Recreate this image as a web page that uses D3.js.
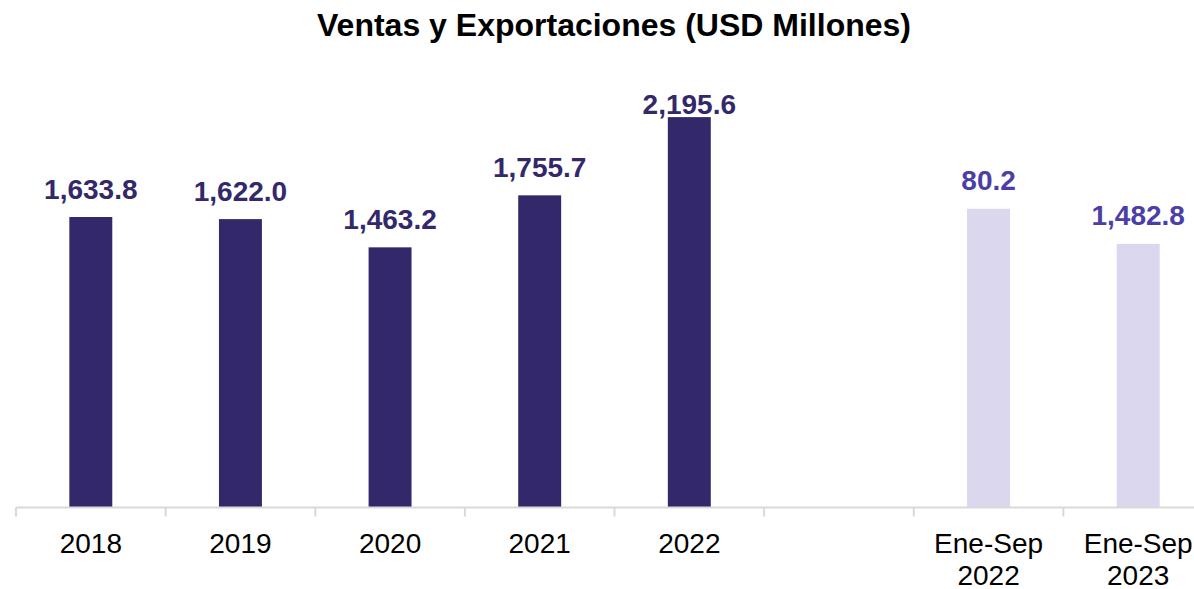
<!DOCTYPE html>
<html>
<head>
<meta charset="utf-8">
<script src="https://cdn.jsdelivr.net/npm/d3@7"></script>
<style>
  html, body { margin: 0; padding: 0; background: #ffffff; }
  svg { display: block; }
</style>
</head>
<body>
<svg id="chart" width="1194" height="589"></svg>
<script>
// ---- Data ----
const title = "Ventas y Exportaciones (USD Millones)";
const categories = ["2018", "2019", "2020", "2021", "2022", "gap", "Ene-Sep 2022", "Ene-Sep 2023"];
const tickLabels = [["2018"], ["2019"], ["2020"], ["2021"], ["2022"], [""], ["Ene-Sep", "2022"], ["Ene-Sep", "2023"]];
const values = [1633.8, 1622.0, 1463.2, 1755.7, 2195.6, null, 1680.2, 1482.8];
const valueLabels = ["1,633.8", "1,622.0", "1,463.2", "1,755.7", "2,195.6", "", "80.2", "1,482.8"];
const seriesType = ["annual", "annual", "annual", "annual", "annual", "none", "partial", "partial"];

// ---- Styles ----
const barColor = { annual: "#32286a", partial: "#dad7ef" };
const labelColor = { annual: "#32286a", partial: "#4c3ea8" };
const font = "'Liberation Sans', Arial, Helvetica, sans-serif";

const svg = d3.select("#chart");
const axisY = 507.5;
const x = d3.scaleBand()
  .domain(categories)
  .range([16, 1213])
  .paddingInner(0.713)
  .paddingOuter(0.3565);
const y = d3.scaleLinear().domain([0, 2500]).range([axisY, 63]);
const minBaseline = 113.5; // labels are kept inside the plot area

// Title
svg.append("text")
  .attr("x", 614)
  .attr("y", 36)
  .attr("text-anchor", "middle")
  .attr("font-family", font)
  .attr("font-weight", "bold")
  .attr("font-size", 32)
  .attr("fill", "#000")
  .text(title);

const data = categories.map((c, i) => ({ c, v: values[i], lab: valueLabels[i], t: seriesType[i] }));

// Bars
svg.append("g").selectAll("rect")
  .data(data.filter(d => d.v != null))
  .join("rect")
  .attr("x", d => x(d.c))
  .attr("width", x.bandwidth())
  .attr("y", d => y(d.v))
  .attr("height", d => y(0) - y(d.v))
  .attr("fill", d => barColor[d.t]);

// Value labels
svg.append("g").selectAll("text")
  .data(data.filter(d => d.v != null))
  .join("text")
  .attr("x", d => x(d.c) + x.bandwidth() / 2)
  .attr("y", d => Math.max(y(d.v) - 18.5, minBaseline))
  .attr("text-anchor", "middle")
  .attr("font-family", font)
  .attr("font-weight", "bold")
  .attr("font-size", 28)
  .attr("fill", d => labelColor[d.t])
  .text(d => d.lab);

// Axis
const axis = d3.axisBottom(x).tickSize(0).tickFormat(() => "");
const gAxis = svg.append("g").attr("transform", `translate(0,${axisY})`).call(axis);
gAxis.select(".domain").remove();
gAxis.append("line")
  .attr("x1", 16).attr("x2", 1213)
  .attr("y1", 0).attr("y2", 0)
  .attr("stroke", "#d9d9d9").attr("stroke-width", 2);

// Boundary ticks
const step = x.step();
const boundaries = d3.range(categories.length + 1).map(i => 16 + i * step);
gAxis.selectAll(".bt")
  .data(boundaries)
  .join("line")
  .attr("class", "bt")
  .attr("x1", d => d).attr("x2", d => d)
  .attr("y1", 0).attr("y2", 9)
  .attr("stroke", "#d9d9d9").attr("stroke-width", 2);

// Tick labels
gAxis.selectAll(".tick").each(function(d) {
  const lines = tickLabels[categories.indexOf(d)];
  const t = d3.select(this).append("text")
    .attr("text-anchor", "middle")
    .attr("font-family", font)
    .attr("font-size", 28)
    .attr("fill", "#000");
  lines.forEach((ln, k) => {
    t.append("tspan").attr("x", 0).attr("y", 45 + k * 32).text(ln);
  });
});
</script>
</body>
</html>
